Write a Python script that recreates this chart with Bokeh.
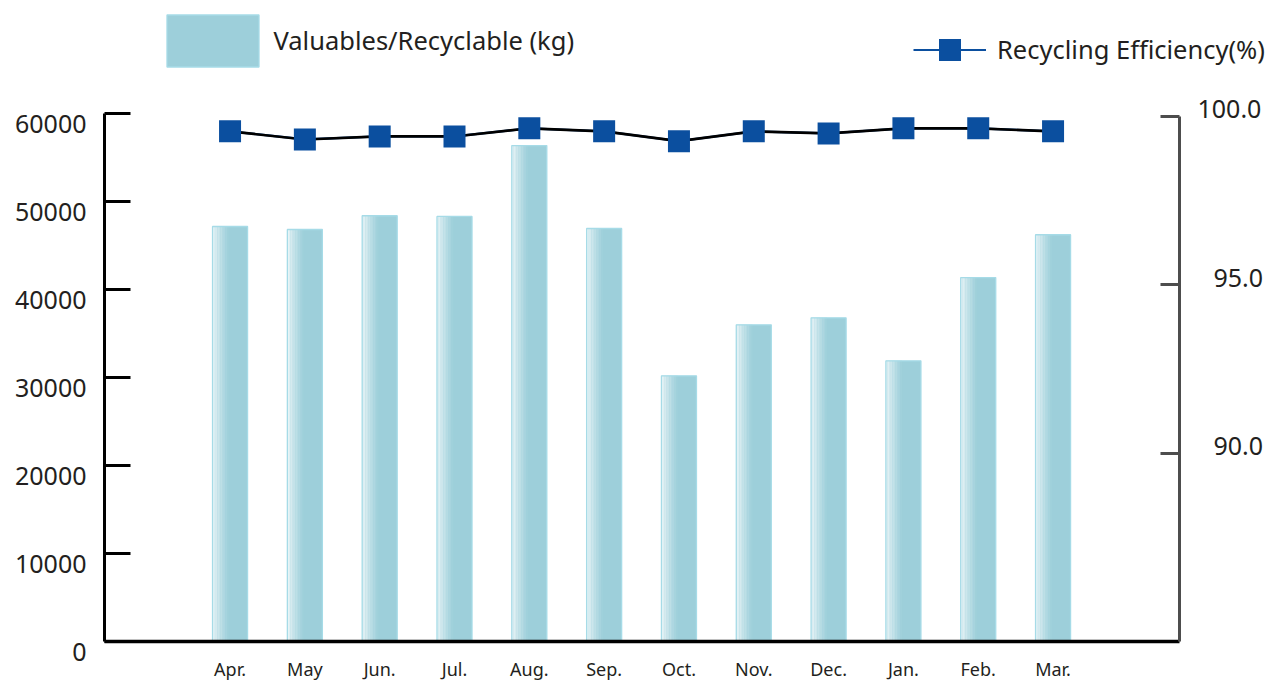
from bokeh.plotting import figure
from bokeh.models import (ColumnDataSource, Range1d, LinearAxis, FixedTicker,
                          NumeralTickFormatter, Legend, LegendItem)
from bokeh.transform import dodge
from bokeh.embed import file_html
from bokeh.resources import INLINE

# Monthly figures, fiscal year April -> March
months = ["Apr.", "May", "Jun.", "Jul.", "Aug.", "Sep.",
          "Oct.", "Nov.", "Dec.", "Jan.", "Feb.", "Mar."]
recyclable_kg = [47160, 46820, 48380, 48300, 56360, 46930,
                 30190, 35990, 36780, 31900, 41360, 46220]
efficiency_pct = [99.55, 99.31, 99.40, 99.40, 99.64, 99.55,
                  99.26, 99.55, 99.49, 99.64, 99.64, 99.55]
kg_ticks = [0, 10000, 20000, 30000, 40000, 50000, 60000]
pct_ticks = [90.0, 95.0, 100.0]

FONT = "Noto Sans"
TEXT = "#231f20"
BAR = (157, 207, 218)
BAR_LIGHT = (240, 248, 250)
MARK = "#0b4f9f"
RIGHT_AXIS = "#4d4d4d"

# canvas geometry (pixels); the plot frame covers the whole canvas and
# every axis is pinned at a data location and limited with bounds
W, H = 1269, 680
LEFT, RIGHT = 104, 1179
Y0_PX, Y60K_PX, Y100_PX = 641, 113, 115.7
KG_PER_PX = 60000 / (Y0_PX - Y60K_PX)
PCT_PER_PX = 5 / 168.5

x_lo, x_hi = -1.678, 12.69            # data x at the left / right axis
X_PER_PX = (x_hi - x_lo) / (RIGHT - LEFT)
x_start = x_lo - LEFT * X_PER_PX
x_end = x_hi + (W - RIGHT) * X_PER_PX

kg_start = -(H - Y0_PX) * KG_PER_PX
kg_end = 60000 + Y60K_PX * KG_PER_PX
pct_start = 100 - (H - Y100_PX) * PCT_PER_PX
pct_end = 100 + Y100_PX * PCT_PER_PX
pct_floor = 100 - (Y0_PX - Y100_PX) * PCT_PER_PX

idx = list(range(len(months)))
src = ColumnDataSource(dict(x=idx, kg=recyclable_kg, pct=efficiency_pct))

p = figure(width=W, height=H, output_backend="svg", toolbar_location=None,
           x_range=Range1d(x_start, x_end), y_range=Range1d(kg_start, kg_end),
           min_border=0, outline_line_color=None)
p.grid.visible = False

# label positions are nudged a few pixels relative to their tick marks
p.extra_y_ranges = {
    "pct": Range1d(pct_start, pct_end),
    "kg_lbl": Range1d(kg_start + 10 * KG_PER_PX, kg_end + 10 * KG_PER_PX),
    "pct_lbl": Range1d(pct_start - 7 * PCT_PER_PX, pct_end - 7 * PCT_PER_PX),
}

def style_labels(ax, size):
    ax.major_label_text_font = FONT
    ax.major_label_text_font_size = size
    ax.major_label_text_color = TEXT

# bottom axis drawn at y = 0, month names under each bar
xa = p.xaxis[0]
xa.fixed_location = 0
xa.bounds = (x_lo, x_hi)
xa.ticker = FixedTicker(ticks=idx)
xa.major_label_overrides = {i: m for i, m in zip(idx, months)}
xa.major_tick_in = 0
xa.major_tick_out = 0
xa.major_tick_line_color = None
xa.minor_tick_line_color = None
xa.axis_line_color = "black"
xa.axis_line_width = 3.5
xa.major_label_standoff = 15
style_labels(xa, "18px")

# left axis: line and inward ticks
ya = p.yaxis[0]
ya.fixed_location = x_lo
ya.bounds = (0, 60000)
ya.ticker = FixedTicker(ticks=kg_ticks)
ya.major_label_overrides = {t: "" for t in kg_ticks}
ya.axis_line_color = "black"
ya.axis_line_width = 3
ya.major_tick_in = 26
ya.major_tick_out = 0
ya.major_tick_line_color = "black"
ya.major_tick_line_width = 3
ya.minor_tick_line_color = None

# left axis labels
ya_lbl = LinearAxis(y_range_name="kg_lbl", fixed_location=x_lo,
                    ticker=FixedTicker(ticks=kg_ticks),
                    formatter=NumeralTickFormatter(format="0"),
                    axis_line_color=None, major_tick_line_color=None,
                    minor_tick_line_color=None, major_tick_in=0, major_tick_out=0,
                    major_label_standoff=18)
style_labels(ya_lbl, "25px")
p.add_layout(ya_lbl, "left")

# right axis: line and inward ticks
ra = LinearAxis(y_range_name="pct", fixed_location=x_hi,
                ticker=FixedTicker(ticks=pct_ticks),
                bounds=(pct_floor, 100.0),
                major_label_overrides={t: "" for t in pct_ticks})
ra.axis_line_color = RIGHT_AXIS
ra.axis_line_width = 3
ra.major_tick_in = 19
ra.major_tick_out = 0
ra.major_tick_line_color = RIGHT_AXIS
ra.major_tick_line_width = 3
ra.minor_tick_line_color = None
p.add_layout(ra, "right")

# right axis labels, right-aligned by their standoff
for ticks, standoff in (([100.0], 18), ([90.0, 95.0], 34)):
    lbl = LinearAxis(y_range_name="pct_lbl", fixed_location=x_hi,
                     ticker=FixedTicker(ticks=ticks),
                     formatter=NumeralTickFormatter(format="0.0"),
                     axis_line_color=None, major_tick_line_color=None,
                     minor_tick_line_color=None, major_tick_in=0,
                     major_tick_out=0, major_label_standoff=standoff)
    style_labels(lbl, "25px")
    p.add_layout(lbl, "right")

# bars with a light left-edge shading
bar_w = 0.468
bar_fill = p.vbar(x="x", top="kg", width=bar_w, source=src,
                  fill_color="#%02x%02x%02x" % BAR, line_color=None)
n_strips = 10
shade_w = bar_w * 0.46
strip_w = shade_w / n_strips
for k in range(n_strips):
    t = ((k + 0.5) / n_strips) ** 0.8
    col = tuple(int(round(BAR_LIGHT[c] + (BAR[c] - BAR_LIGHT[c]) * t)) for c in range(3))
    off = -bar_w / 2 + strip_w * (k + 0.5)
    p.vbar(x=dodge("x", off), top="kg", width=strip_w * 1.08, source=src,
           fill_color="#%02x%02x%02x" % col, line_color=None)
bar_edge = p.vbar(x="x", top="kg", width=bar_w, source=src,
                  fill_color=None, line_color="#a6dbe7", line_width=1.3)

# efficiency line with square markers (blue stroke under the black one
# supplies the legend key colour)
key_line = p.line(x="x", y="pct", source=src, y_range_name="pct",
                  line_color=MARK, line_width=2.2)
p.line(x="x", y="pct", source=src, y_range_name="pct",
       line_color="black", line_width=2.6)
squares = p.scatter(x="x", y="pct", source=src, y_range_name="pct",
                    marker="square", size=22, fill_color=MARK, line_color=MARK,
                    line_width=0)

common = dict(border_line_color=None, background_fill_alpha=0, padding=0,
              margin=0, spacing=0, label_text_font=FONT,
              label_text_font_size="25.5px", label_text_color=TEXT)
leg_kg = Legend(items=[LegendItem(label="Valuables/Recyclable (kg)",
                                  renderers=[bar_fill, bar_edge])],
                location=(50.5 + LEFT, H - 72.5), glyph_width=115,
                glyph_height=65, label_standoff=4, **common)
leg_pct = Legend(items=[LegendItem(label="Recycling Efficiency(%)",
                                   renderers=[key_line, squares])],
                 location=(913, H - 76.5), glyph_width=73, glyph_height=55,
                 label_standoff=11, **common)
p.add_layout(leg_kg, "center")
p.add_layout(leg_pct, "center")

open("out.html", "w").write(file_html(p, INLINE))
